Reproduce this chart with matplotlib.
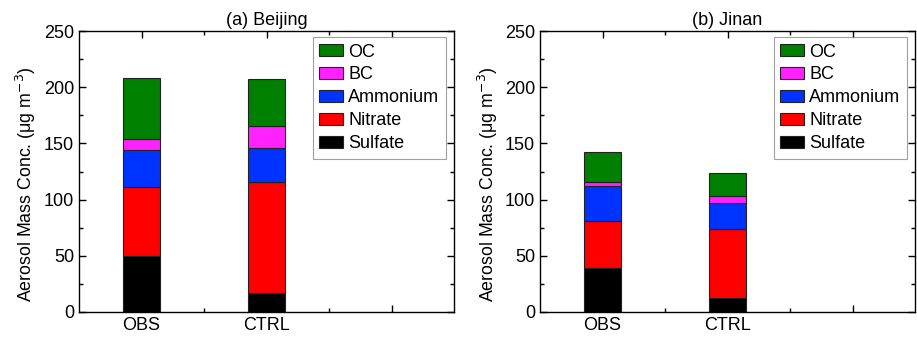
import matplotlib
matplotlib.use("Agg")
import matplotlib.pyplot as plt
from matplotlib.ticker import MultipleLocator, FixedLocator

plt.rcParams["font.family"] = ["Liberation Sans", "DejaVu Sans"]

cases = ["OBS", "CTRL"]
species = ["Sulfate", "Nitrate", "Ammonium", "BC", "OC"]
colors = ["#000000", "#ff0000", "#0033ff", "#ff22ff", "#008000"]

# values per species, [OBS, CTRL]
beijing = {
    "Sulfate": [50.0, 17.2],
    "Nitrate": [61.5, 98.8],
    "Ammonium": [32.3, 29.6],
    "BC": [10.4, 20.2],
    "OC": [54.3, 41.8],
}
jinan = {
    "Sulfate": [39.4, 12.5],
    "Nitrate": [41.3, 61.3],
    "Ammonium": [31.4, 22.9],
    "BC": [3.6, 6.8],
    "OC": [26.3, 19.9],
}
titles = ["(a) Beijing", "(b) Jinan"]

fig = plt.figure(figsize=(9.17, 3.37), dpi=100)
ax_a = fig.add_axes([79 / 917, 1 - 312 / 337, 375 / 917, 281 / 337])
ax_b = fig.add_axes([540 / 917, 1 - 312 / 337, 375 / 917, 281 / 337])

for ax, data, title in zip([ax_a, ax_b], [beijing, jinan], titles):
    xs = [1, 2]
    bottom = [0.0, 0.0]
    for sp, c in zip(species, colors):
        vals = data[sp]
        ax.bar(xs, vals, width=0.3, bottom=bottom, color=c,
               edgecolor="#222222", linewidth=0.8, label=sp)
        bottom = [b + v for b, v in zip(bottom, vals)]

    ax.set_xlim(0.5, 3.5)
    ax.set_ylim(0, 250)
    ax.xaxis.set_major_locator(FixedLocator([1, 2, 3]))
    ax.set_xticklabels(["OBS", "CTRL", ""])
    ax.xaxis.set_minor_locator(FixedLocator([1.5, 2.5]))
    ax.yaxis.set_major_locator(MultipleLocator(50))
    ax.yaxis.set_minor_locator(MultipleLocator(25))
    ax.tick_params(which="both", direction="in", top=True, right=True,
                   labelsize=13, width=1.0)
    ax.tick_params(which="major", length=5)
    ax.tick_params(which="minor", length=3)
    for s in ax.spines.values():
        s.set_linewidth(1.0)

    ax.set_title(title, fontsize=13, pad=4)
    ax.set_ylabel("Aerosol Mass Conc. ($\\mathregular{\\mu}$g m$^{-3}$)", fontsize=12.8)
    ax.yaxis.set_label_coords(-0.108, 0.455)

    h, l = ax.get_legend_handles_labels()
    leg = ax.legend(h[::-1], l[::-1], loc="upper right", fontsize=13,
                    frameon=True, fancybox=False, edgecolor="#888888",
                    handlelength=1.3, handleheight=0.65, handletextpad=0.3,
                    labelspacing=0.33, borderpad=0.35, borderaxespad=0,
                    bbox_to_anchor=(0.978, 0.978))
    leg.get_frame().set_linewidth(0.8)

fig.savefig("out.png", dpi=100)
